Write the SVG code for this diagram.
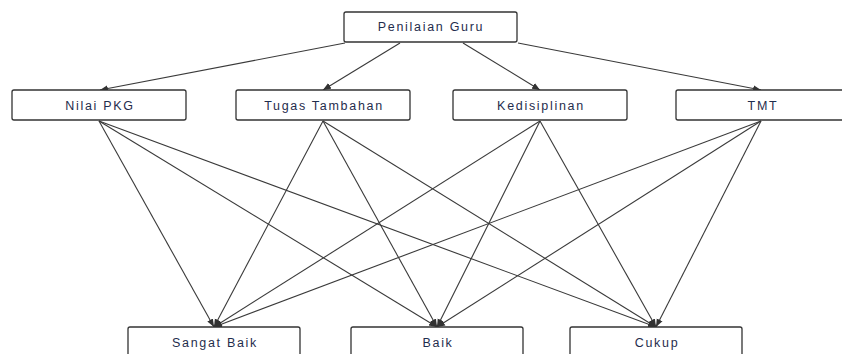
<svg xmlns="http://www.w3.org/2000/svg" width="842" height="354" viewBox="0 0 842 354">
<style>
.box{fill:#fff;stroke:#333;stroke-width:1.3}
.lbl{font-family:"Liberation Sans",Arial,sans-serif;font-size:12.5px;letter-spacing:1.7px;fill:#1f2d4d;text-anchor:middle}
.edge{stroke:#3a3a3a;stroke-width:1.1;fill:none;marker-end:url(#arr)}
</style>
<defs>
<marker id="arr" viewBox="0 0 10 10" refX="10" refY="5" markerWidth="8" markerHeight="8" markerUnits="userSpaceOnUse" orient="auto">
<path d="M0,1 L10,5 L0,9 Z" fill="#333"/>
</marker>
</defs>
<rect width="842" height="354" fill="#fff"/>
<g id="connectors">
<line class="edge" x1="345" y1="43" x2="100" y2="90"/>
<line class="edge" x1="400" y1="43" x2="323" y2="90"/>
<line class="edge" x1="463" y1="43" x2="540" y2="90"/>
<line class="edge" x1="518" y1="43" x2="761" y2="90"/>
<line class="edge" x1="99" y1="121" x2="214" y2="327"/>
<line class="edge" x1="99" y1="121" x2="437" y2="327"/>
<line class="edge" x1="99" y1="121" x2="656" y2="327"/>
<line class="edge" x1="323" y1="121" x2="214" y2="327"/>
<line class="edge" x1="323" y1="121" x2="437" y2="327"/>
<line class="edge" x1="323" y1="121" x2="656" y2="327"/>
<line class="edge" x1="540" y1="121" x2="214" y2="327"/>
<line class="edge" x1="540" y1="121" x2="437" y2="327"/>
<line class="edge" x1="540" y1="121" x2="656" y2="327"/>
<line class="edge" x1="761" y1="121" x2="214" y2="327"/>
<line class="edge" x1="761" y1="121" x2="437" y2="327"/>
<line class="edge" x1="761" y1="121" x2="656" y2="327"/>
</g>
<g id="penilaian-guru"><rect class="box" x="344" y="12" width="173" height="30" rx="2"/><text class="lbl" x="431" y="31">Penilaian Guru</text></g>
<g id="nilai-pkg"><rect class="box" x="12" y="90" width="174" height="30" rx="2"/><text class="lbl" x="100" y="110">Nilai PKG</text></g>
<g id="tugas-tambahan"><rect class="box" x="236" y="90" width="174" height="30" rx="2"/><text class="lbl" x="324" y="110">Tugas Tambahan</text></g>
<g id="kedisiplinan"><rect class="box" x="453" y="90" width="174" height="30" rx="2"/><text class="lbl" x="541" y="110">Kedisiplinan</text></g>
<g id="tmt"><rect class="box" x="676" y="90" width="174" height="30" rx="2"/><text class="lbl" x="763" y="110">TMT</text></g>
<g id="sangat-baik"><rect class="box" x="128" y="327" width="172" height="30" rx="2"/><text class="lbl" x="215" y="347">Sangat Baik</text></g>
<g id="baik"><rect class="box" x="351" y="327" width="172" height="30" rx="2"/><text class="lbl" x="438" y="347">Baik</text></g>
<g id="cukup"><rect class="box" x="570" y="327" width="172" height="30" rx="2"/><text class="lbl" x="657" y="347">Cukup</text></g>
</svg>
